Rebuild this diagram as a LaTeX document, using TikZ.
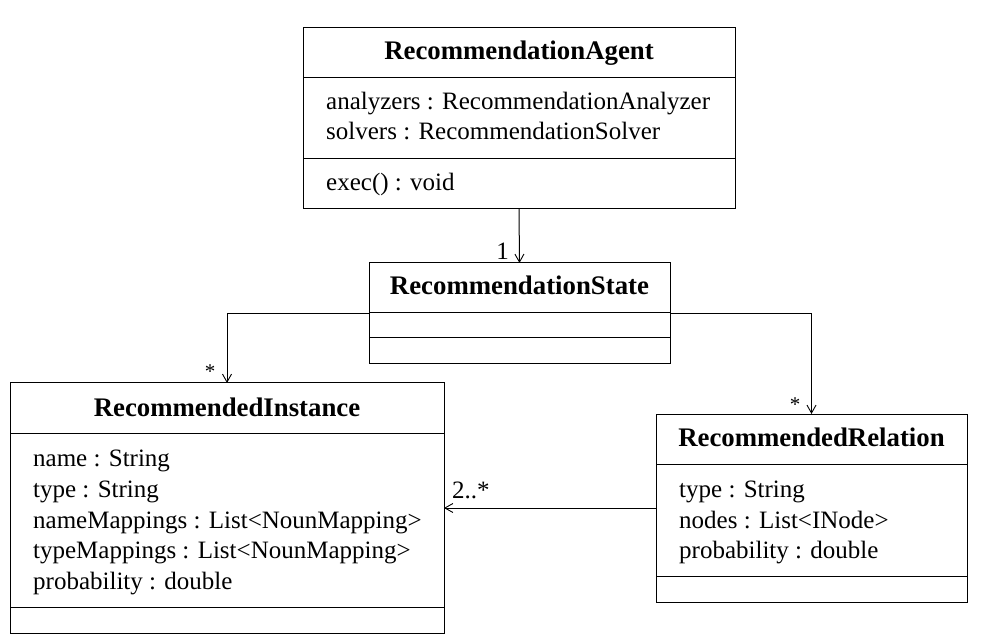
\documentclass[tikz,border=0pt]{standalone}
\usepackage{fontspec}
\setmainfont{Liberation Serif}
\usetikzlibrary{arrows.meta}
\begin{document}
\begin{tikzpicture}[x=1pt,y=-1pt,
  classbox/.style={draw,line width=1pt,rectangle,inner sep=0pt,outer sep=0pt},
  title/.style={anchor=base,font=\fontsize{26.8}{30}\selectfont\bfseries,inner sep=0pt},
  member/.style={anchor=base west,font=\fontsize{25}{30}\selectfont,inner sep=0pt},
  mult/.style={font=\fontsize{25}{30}\selectfont,inner sep=0pt},
  assoc/.style={line width=1pt,-{Straight Barb[length=8pt,width=9pt,line width=0.9pt]}}]
\useasboundingbox (0,0) rectangle (983,644);
% boxes
\node[classbox,minimum width=432pt,minimum height=181pt] (agent) at (519,118.5) {};
\node[classbox,minimum width=301pt,minimum height=101pt] (state) at (519.5,313.5) {};
\node[classbox,minimum width=434pt,minimum height=250pt] (inst) at (227,508) {};
\node[classbox,minimum width=311pt,minimum height=188pt] (rel) at (811.5,508) {};
% compartments
\draw[line width=1pt] (agent.west |- 0,78) -- (agent.east |- 0,78);
\draw[line width=1pt] (agent.west |- 0,159) -- (agent.east |- 0,159);
\draw[line width=1pt] (state.west |- 0,313) -- (state.east |- 0,313);
\draw[line width=1pt] (state.west |- 0,338) -- (state.east |- 0,338);
\draw[line width=1pt] (inst.west |- 0,433) -- (inst.east |- 0,433);
\draw[line width=1pt] (inst.west |- 0,607) -- (inst.east |- 0,607);
\draw[line width=1pt] (rel.west |- 0,464) -- (rel.east |- 0,464);
\draw[line width=1pt] (rel.west |- 0,576) -- (rel.east |- 0,576);
% texts
\node[title] (agentT) at (519,60) {RecommendationAgent};
\node[member] (agentA1) at (326,110) {analyzers : RecommendationAnalyzer};
\node[member] (agentA2) at (326,140) {solvers : RecommendationSolver};
\node[member] (agentM1) at (326,191) {exec() : void};
\node[title] (stateT) at (519.5,295) {RecommendationState};
\node[title] (instT) at (227,416) {RecommendedInstance};
\node[member] (instA1) at (33,466) {name : String};
\node[member] (instA2) at (33,497) {type : String};
\node[member] (instA3) at (33,528) {nameMappings : List<NounMapping>};
\node[member] (instA4) at (33,558) {typeMappings : List<NounMapping>};
\node[member] (instA5) at (33,589) {probability : double};
\node[title] (relT) at (811.5,446) {RecommendedRelation};
\node[member] (relA1) at (679,497) {type : String};
\node[member] (relA2) at (679,528) {nodes : List<INode>};
\node[member] (relA3) at (679,558) {probability : double};
% connectors
\draw[assoc] (agent.south) -- (state.north);
\draw[assoc] (state.west) -| (inst.north);
\draw[assoc] (state.east) -| (rel.north);
\draw[assoc] (rel.west) -- (inst.east |- rel.west);
% multiplicities
\node[mult,anchor=base east] (m1) at (509,260) {1};
\node[mult,anchor=base,font=\fontsize{21}{25}\selectfont] (m2) at (210,379) {*};
\node[mult,anchor=base,font=\fontsize{21}{25}\selectfont] (m3) at (795,411) {*};
\node[mult,anchor=base west] (m4) at (452,498) {2..*};
\end{tikzpicture}
\end{document}
